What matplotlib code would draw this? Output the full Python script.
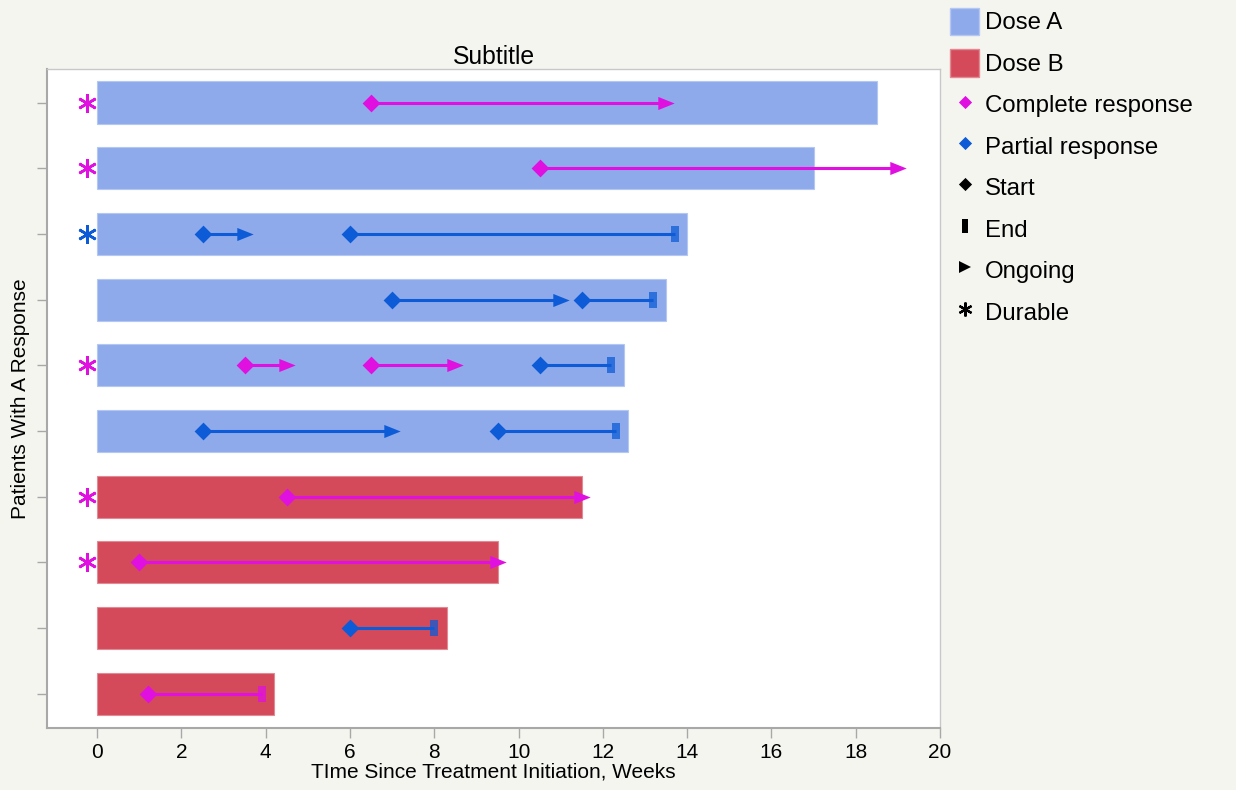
import matplotlib
matplotlib.use("Agg")
import matplotlib.pyplot as plt
from matplotlib.patches import Patch
from matplotlib.lines import Line2D

plt.rcParams['font.family'] = ['Liberation Sans', 'DejaVu Sans']

# ---- data ----
patients = [1, 2, 3, 4, 5, 6, 7, 8, 9, 10]
dose = ['Dose A'] * 6 + ['Dose B'] * 4
duration = [18.5, 17.0, 14.0, 13.5, 12.5, 12.6, 11.5, 9.5, 8.3, 4.2]
durable = ['CR', 'CR', 'PR', None, 'CR', None, 'CR', 'CR', None, None]

resp_patient = [1, 2, 3, 3, 4, 4, 5, 5, 5, 6, 6, 7, 8, 9, 10]
resp_type = ['CR', 'CR', 'PR', 'PR', 'PR', 'PR', 'CR', 'CR', 'PR', 'PR', 'PR', 'CR', 'CR', 'PR', 'CR']
resp_start = [6.5, 10.5, 2.5, 6.0, 7.0, 11.5, 3.5, 6.5, 10.5, 2.5, 9.5, 4.5, 1.0, 6.0, 1.2]
resp_stop = [13.5, 19.0, 3.5, 13.7, 11.0, 13.2, 4.5, 8.5, 12.2, 7.0, 12.3, 11.5, 9.5, 8.0, 3.9]
resp_status = ['Ongoing', 'Ongoing', 'Ongoing', 'End', 'Ongoing', 'End', 'Ongoing', 'Ongoing',
               'End', 'Ongoing', 'End', 'Ongoing', 'Ongoing', 'End', 'End']

x_ticks = [0, 2, 4, 6, 8, 10, 12, 14, 16, 18, 20]
durable_x = -0.25

# ---- styles ----
dose_colors = {'Dose A': '#8eaaea', 'Dose B': '#d44a5a'}
dose_edges = {'Dose A': '#b4c6f2', 'Dose B': '#e28a94'}
resp_colors = {'CR': '#e010e0', 'PR': '#0d5bd6'}
bg = '#f5f5f0'

diamond = [(0, 1), (1, 0), (0, -1), (-1, 0), (0, 1)]
arrow = [(-1, -0.8), (1, 0), (-1, 0.8), (-1, -0.8)]
end_verts = [(-0.5, -1), (0.5, -1), (0.5, 1), (-0.5, 1), (-0.5, -1)]
asterisk = (6, 2, 0)

fig = plt.figure(figsize=(12.36, 7.90), dpi=100, facecolor=bg)
ax = fig.add_axes([47 / 1236, 1 - 728 / 790, (940 - 47) / 1236, (728 - 69) / 790])
ax.set_facecolor('white')

ax.barh(patients, duration, height=0.64, left=0,
        color=[dose_colors[d] for d in dose],
        edgecolor=[dose_edges[d] for d in dose], linewidth=0.8, zorder=2)

for p, t, s, e, st in zip(resp_patient, resp_type, resp_start, resp_stop, resp_status):
    c = resp_colors[t]
    ax.plot([s, e], [p, p], color=c, lw=2.2, zorder=3, solid_capstyle='butt')
    ax.plot([s], [p], marker=diamond, color=c, markersize=12.8, markeredgewidth=0, zorder=4)
    if st == 'Ongoing':
        ax.plot([e], [p], marker=arrow, color=c, markersize=11.8, markeredgewidth=0, zorder=4)
    else:
        ax.plot([e], [p], marker=end_verts, color=c, markersize=12, markeredgewidth=0,
                alpha=0.75, zorder=4)

for p, d in zip(patients, durable):
    if d is not None:
        ax.plot([durable_x], [p], marker=asterisk, color=resp_colors[d], markersize=13.5,
                markeredgewidth=1.9, linestyle='none', zorder=4)

ax.set_xlim(-1.19, 20)
ax.set_ylim(10.52, 0.49)
ax.set_xticks(x_ticks)
ax.set_xticklabels([str(v) for v in x_ticks], fontsize=15)
ax.set_yticks(patients)
ax.set_yticklabels([])
ax.tick_params(axis='both', direction='out', length=7, width=1, color='#a8a8a8', pad=4)
for sp in ax.spines.values():
    sp.set_color('#c8c8c8')
    sp.set_linewidth(1)
ax.spines['left'].set_color('#a8a8a8')
ax.spines['bottom'].set_color('#a8a8a8')
ax.spines['left'].set_linewidth(1.5)
ax.spines['bottom'].set_linewidth(1.5)

ax.set_xlabel('TIme Since Treatment Initiation, Weeks', fontsize=15, labelpad=0)
ax.set_ylabel('Patients With A Response', fontsize=15, labelpad=1)
ax.set_title('Subtitle', fontsize=17.8, pad=3)

handles = [
    Patch(facecolor=dose_colors['Dose A'], edgecolor=dose_edges['Dose A'], label='Dose A'),
    Patch(facecolor=dose_colors['Dose B'], edgecolor=dose_edges['Dose B'], label='Dose B'),
    Line2D([], [], marker=diamond, color=resp_colors['CR'], linestyle='none', markersize=9.5,
           markeredgewidth=0, label='Complete response'),
    Line2D([], [], marker=diamond, color=resp_colors['PR'], linestyle='none', markersize=9.5,
           markeredgewidth=0, label='Partial response'),
    Line2D([], [], marker=diamond, color='black', linestyle='none', markersize=9.5,
           markeredgewidth=0, label='Start'),
    Line2D([], [], marker=end_verts, color='black', linestyle='none', markersize=10,
           markeredgewidth=0, label='End'),
    Line2D([], [], marker='>', color='black', linestyle='none', markersize=9,
           markeredgewidth=0, label='Ongoing'),
    Line2D([], [], marker=asterisk, color='black', linestyle='none', markersize=10,
           markeredgewidth=1.6, label='Durable'),
]
fig.legend(handles=handles, loc='upper left', bbox_to_anchor=(945 / 1236, 1 - 3 / 790),
           frameon=False, fontsize=17.3, handlelength=1.23, handleheight=1.37,
           handletextpad=0.25, labelspacing=0.59, borderaxespad=0, borderpad=0.2)

fig.savefig('out.png', dpi=100, facecolor=bg)
